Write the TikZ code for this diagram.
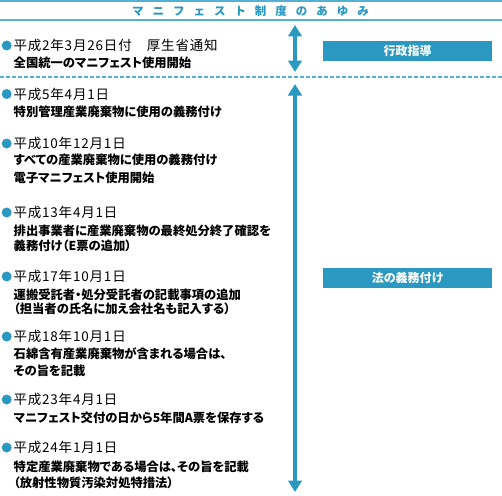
\documentclass[tikz,border=0pt]{standalone}
\usepackage{fontspec}
\usetikzlibrary{arrows.meta}
\newfontfamily\jph[LetterSpace=6]{Noto Sans CJK JP}
\newfontfamily\jps[RawFeature=+palt]{Noto Sans CJK JP}
\newfontfamily\jpt[LetterSpace=78]{Noto Sans CJK JP}
\definecolor{mainblue}{HTML}{2A98C0}
\definecolor{lineblue}{HTML}{55B1D4}
\tikzset{
  hd/.style={anchor=west, inner sep=0pt, text height=0.88em, text depth=0.12em,
    font=\jph\fontsize{13.5}{15}\selectfont, text=black},
  sb/.style={anchor=west, inner sep=0pt, text height=0.88em, text depth=0.12em,
    font=\jps\bfseries\fontsize{12.3}{14}\selectfont, text=black},
  dot/.style={circle, fill=mainblue, inner sep=0pt, minimum size=10pt},
  lawbox/.style={fill=mainblue, inner sep=0pt, text=white, align=center,
    minimum width=168.5pt, minimum height=20.5pt,
    font=\jps\bfseries\fontsize{12}{14}\selectfont},
  dbarrow/.style={draw=mainblue, line width=3.5pt,
    {Triangle[width=13.5pt,length=11.5pt]}-{Triangle[width=13.5pt,length=11.5pt]}},
  rule/.style={draw=lineblue, line width=1.5pt}
}
\begin{document}
\begin{tikzpicture}[x=1pt,y=-1pt]
\useasboundingbox (0,0) rectangle (502,495);
% header
\coordinate (r1l) at (0,1); \coordinate (r1r) at (502,1);
\coordinate (r2l) at (0,20); \coordinate (r2r) at (502,20);
\coordinate (r3l) at (0,77); \coordinate (r3r) at (502,77);
\draw[rule] (r1l) -- (r1r);
\draw[rule] (r2l) -- (r2r);
\draw[rule, dash pattern=on 4pt off 2pt] (r3l) -- (r3r);
\node[inner sep=0pt, text=mainblue, font=\jpt\bfseries\fontsize{11.5}{13}\selectfont] (title) at (250.5,11.5) {マニフェスト制度のあゆみ};
% arrows
\coordinate (a1t) at (295,25); \coordinate (a1b) at (295,72);
\coordinate (a2t) at (295,84); \coordinate (a2b) at (295,492);
\draw[dbarrow] (a1t) -- (a1b);
\draw[dbarrow] (a2t) -- (a2b);
% boxes
\node[lawbox] (gyosei) at (407.5,51) {行政指導};
\node[lawbox] (gimu) at (407.5,277.8) {法の義務付け};
% entries
\node[dot] (d1) at (6.7,45.5) {};
\node[hd] (h1) at (13.3,47) {平成2年3月26日付　厚生省通知};
\node[sb] (s1a) at (13.5,64) {全国統一のマニフェスト使用開始};

\node[dot] (d2) at (6.7,94) {};
\node[hd] (h2) at (13.3,95.5) {平成5年4月1日};
\node[sb] (s2a) at (13.5,113) {特別管理産業廃棄物に使用の義務付け};

\node[dot] (d3) at (6.7,143.5) {};
\node[hd] (h3) at (13.3,145) {平成10年12月1日};
\node[sb] (s3a) at (13.5,161) {すべての産業廃棄物に使用の義務付け};
\node[sb] (s3b) at (13.5,178.5) {電子マニフェスト使用開始};

\node[dot] (d4) at (6.7,212.5) {};
\node[hd] (h4) at (13.3,214) {平成13年4月1日};
\node[sb] (s4a) at (13.5,232) {排出事業者に産業廃棄物の最終処分終了確認を};
\node[sb] (s4b) at (13.5,246.5) {義務付け（E票の追加）};

\node[dot] (d5) at (6.7,276.5) {};
\node[hd] (h5) at (13.3,278) {平成17年10月1日};
\node[sb] (s5a) at (13.5,296) {運搬受託者・処分受託者の記載事項の追加};
\node[sb] (s5b) at (13.5,310) {（担当者の氏名に加え会社名も記入する）};

\node[dot] (d6) at (6.7,336.5) {};
\node[hd] (h6) at (13.3,338) {平成18年10月1日};
\node[sb] (s6a) at (13.5,355) {石綿含有産業廃棄物が含まれる場合は、};
\node[sb] (s6b) at (13.5,371.5) {その旨を記載};

\node[dot] (d7) at (6.7,399.5) {};
\node[hd] (h7) at (13.3,401) {平成23年4月1日};
\node[sb] (s7a) at (13.5,419) {マニフェスト交付の日から5年間A票を保存する};

\node[dot] (d8) at (6.7,447.5) {};
\node[hd] (h8) at (13.3,449) {平成24年1月1日};
\node[sb] (s8a) at (13.5,467.5) {特定産業廃棄物である場合は、その旨を記載};
\node[sb] (s8b) at (13.5,483.5) {（放射性物質汚染対処特措法）};
\end{tikzpicture}
\end{document}
